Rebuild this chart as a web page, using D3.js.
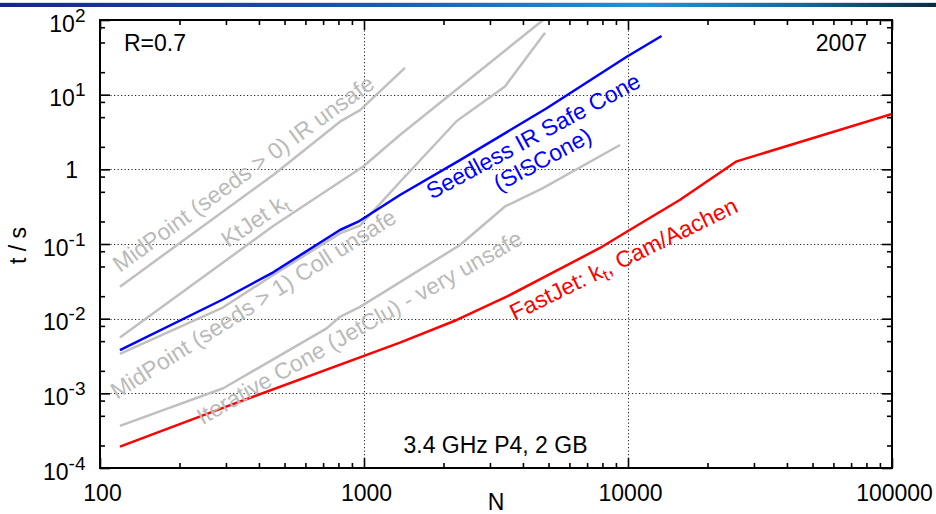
<!DOCTYPE html>
<html>
<head>
<meta charset="utf-8">
<script src="https://cdn.jsdelivr.net/npm/d3@7"></script>
<style>
  html, body { margin: 0; padding: 0; background: #fff; }
  svg { display: block; font-family: "Liberation Sans", Arial, Helvetica, sans-serif; }
</style>
</head>
<body>
<svg id="chart" width="936" height="514"></svg>
<script>
// Clustering time t (seconds) versus number of particles N, R = 0.7

// MidPoint, seeds > 0 (IR unsafe)
const N_MP0 = [119, 453, 811, 966, 1429];
const T_MP0 = [0.0268, 0.84, 4.35, 6.2, 22.8];
// KtJet kt
const N_KTJET = [119, 453, 993, 1368, 4770];
const T_KTJET = [0.0056, 0.174, 1.09, 2.88, 100];
// MidPoint, seeds > 1 (collinear unsafe)
const N_MP1 = [119, 293, 453, 811, 966, 1368, 2245, 3420, 4850];
const T_MP1 = [0.00337, 0.0142, 0.0385, 0.139, 0.176, 0.676, 4.44, 12.9, 67.6];
// Iterative Cone (JetClu)
const N_ICONE = [119, 293, 722, 811, 966, 2310, 3420, 4760, 9330];
const T_ICONE = [0.000366, 0.00117, 0.0074, 0.0106, 0.0144, 0.097, 0.318, 0.56, 2.12];
// SISCone
const N_SIS = [119, 293, 453, 811, 951, 1368, 2310, 4920, 9890, 13400];
const T_SIS = [0.0038, 0.0182, 0.0418, 0.154, 0.199, 0.453, 1.33, 6.57, 32.2, 61];
// FastJet kt, Cam/Aachen
const N_FJ = [119, 292, 1368, 2245, 3470, 7830, 9890, 15700, 25800, 100000];
const T_FJ = [0.000193, 0.00064, 0.00477, 0.0096, 0.0197, 0.0885, 0.146, 0.388, 1.28, 5.5];

// Axis ticks
const X_MAJOR = [100, 1000, 10000, 100000];
const X_LABELS = ["100", "1000", "10000", "100000"];
const Y_MAJOR = [1e-4, 1e-3, 1e-2, 1e-1, 1, 10, 100];
const Y_EXPONENTS = [-4, -3, -2, -1, 0, 1, 2];
const X_MINOR_MULT = [2, 3, 4, 5, 6, 7, 8, 9];
const Y_MINOR_MULT = [2, 5, 8];

const W = 936, H = 514;
const L = 100, R = 892, T = 20, B = 468;
const GRAY = "#c0c0c0", GRAY_TEXT = "#bababa";
const FONT = 23;

const svg = d3.select("#chart");

// header strip
const defs = svg.append("defs");
const grad = defs.append("linearGradient").attr("id", "strip")
  .attr("x1", "0%").attr("x2", "100%").attr("y1", "0%").attr("y2", "0%");
[[0, "#16278a"], [0.35, "#1a4fa8"], [0.69, "#1f93d6"], [0.85, "#176a9c"], [1, "#0c2c40"]]
  .forEach(([o, c]) => grad.append("stop").attr("offset", o).attr("stop-color", c));
svg.append("rect").attr("x", 0).attr("y", 2).attr("width", W).attr("height", 1).attr("fill", "#d8dde6");
svg.append("rect").attr("x", 0).attr("y", 3).attr("width", W).attr("height", 4).attr("fill", "url(#strip)");

const x = d3.scaleLog().domain([100, 100000]).range([L, R]);
const y = d3.scaleLog().domain([1e-4, 100]).range([B, T]);

const decadesX = [100, 1000, 10000];
const xMinor = decadesX.flatMap(d => X_MINOR_MULT.map(m => d * m));
const yMinor = [1e-4, 1e-3, 1e-2, 1e-1, 1, 10].flatMap(d => Y_MINOR_MULT.map(m => d * m));

// dotted grid at inner decades
const grid = svg.append("g").attr("stroke", "#222").attr("stroke-width", 1).attr("stroke-dasharray", "1.2,2.3");
Y_MAJOR.slice(1, -1).forEach(v => {
  grid.append("line").attr("x1", L).attr("x2", R)
    .attr("y1", Math.round(y(v)) + 0.5).attr("y2", Math.round(y(v)) + 0.5);
});
X_MAJOR.slice(1, -1).forEach(v => {
  grid.append("line").attr("y1", T).attr("y2", B)
    .attr("x1", Math.round(x(v)) + 0.5).attr("x2", Math.round(x(v)) + 0.5);
});

// curves
const clip = defs.append("clipPath").attr("id", "plotclip");
clip.append("rect").attr("x", L).attr("y", T).attr("width", R - L).attr("height", B - T);

const series = [
  { n: N_MP0, t: T_MP0, color: GRAY },
  { n: N_KTJET, t: T_KTJET, color: GRAY },
  { n: N_MP1, t: T_MP1, color: GRAY },
  { n: N_ICONE, t: T_ICONE, color: GRAY },
  { n: N_SIS, t: T_SIS, color: "#0000ff" },
  { n: N_FJ, t: T_FJ, color: "#ff0000" }
];
const line = d3.line().x(d => x(d[0])).y(d => y(d[1]));
const curves = svg.append("g").attr("clip-path", "url(#plotclip)");
series.forEach(s => {
  curves.append("path")
    .datum(d3.zip(s.n, s.t))
    .attr("d", line)
    .attr("fill", "none")
    .attr("stroke", s.color)
    .attr("stroke-width", 2.5)
    .attr("stroke-linejoin", "round");
});

// ticks on all four sides, pointing inwards
function ticks(axisFn, scale, values, size, transform) {
  const g = svg.append("g").attr("transform", transform)
    .call(axisFn(scale).tickValues(values).tickSize(-size).tickSizeOuter(0).tickFormat(""));
  g.select(".domain").remove();
  g.selectAll(".tick line").attr("stroke", "#000").attr("stroke-width", 1.6);
  return g;
}
ticks(d3.axisBottom, x, xMinor, 5, `translate(0,${B})`);
ticks(d3.axisTop, x, xMinor, 5, `translate(0,${T})`);
ticks(d3.axisTop, x, X_MAJOR, 10, `translate(0,${T})`);
ticks(d3.axisLeft, y, yMinor, 5, `translate(${L},0)`);
ticks(d3.axisRight, y, yMinor, 5, `translate(${R},0)`);
ticks(d3.axisLeft, y, Y_MAJOR, 10, `translate(${L},0)`);
ticks(d3.axisRight, y, Y_MAJOR, 10, `translate(${R},0)`);

// bottom axis with labels
const gx = svg.append("g").attr("transform", `translate(0,${B})`)
  .call(d3.axisBottom(x).tickValues(X_MAJOR).tickSize(-10).tickSizeOuter(0).tickPadding(17)
    .tickFormat((d, i) => X_LABELS[i]));
gx.select(".domain").remove();
gx.selectAll(".tick line").attr("stroke", "#000").attr("stroke-width", 1.6);
gx.selectAll(".tick text").attr("fill", "#000").attr("font-size", FONT)
  .attr("font-family", "Liberation Sans, Arial, sans-serif").attr("dx", 2);

// left labels as powers of ten
const yl = svg.append("g").attr("fill", "#000").attr("font-size", FONT);
Y_MAJOR.forEach((v, i) => {
  const e = Y_EXPONENTS[i];
  if (e === 0) {
    yl.append("text").attr("x", 78).attr("y", y(v) + 8.3).attr("text-anchor", "end").text("1");
  } else {
    const t = yl.append("text").attr("x", 85.5).attr("y", y(v) + 11.7).attr("text-anchor", "end");
    t.append("tspan").text("10");
    t.append("tspan").attr("font-size", 19).attr("dy", -10).text(e < 0 ? "-" + (-e) : String(e));
  }
});

// frame
svg.append("rect").attr("x", L).attr("y", T).attr("width", R - L).attr("height", B - T)
  .attr("fill", "none").attr("stroke", "#000").attr("stroke-width", 2);

// axis titles
svg.append("text").attr("x", 496).attr("y", 510).attr("text-anchor", "middle")
  .attr("font-size", FONT).text("N");
svg.append("text").attr("transform", "translate(26,245.5) rotate(-90)").attr("text-anchor", "middle")
  .attr("font-size", FONT).text("t / s");

// annotations
svg.append("text").attr("x", 124).attr("y", 51).attr("font-size", FONT).text("R=0.7");
svg.append("text").attr("x", 867).attr("y", 51).attr("text-anchor", "end").attr("font-size", FONT).text("2007");
svg.append("text").attr("x", 495.5).attr("y", 453).attr("text-anchor", "middle").attr("font-size", FONT)
  .text("3.4 GHz P4, 2 GB");

// curve labels, rotated along their curves
function curveLabel(cx, cy, angle, color, lines) {
  const g = svg.append("g").attr("transform", `translate(${cx},${cy}) rotate(${-angle})`)
    .attr("fill", color).attr("font-size", FONT).attr("text-anchor", "middle");
  lines.forEach(ln => {
    const t = g.append("text").attr("x", ln.dx || 0).attr("y", ln.dy || 0);
    ln.parts.forEach(p => {
      if (p.sub) {
        t.append("tspan").attr("font-size", 17).attr("dy", 5).text(p.s);
      } else {
        t.append("tspan").attr("dy", p.after ? -5 : null).text(p.s);
      }
    });
  });
}
curveLabel(248, 180, 36, GRAY_TEXT, [{ parts: [{ s: "MidPoint (seeds > 0) IR unsafe" }] }]);
curveLabel(259, 227, 34, GRAY_TEXT, [{ parts: [{ s: "KtJet k" }, { s: "t", sub: true }] }]);
curveLabel(257.5, 310.5, 32.4, GRAY_TEXT, [{ parts: [{ s: "MidPoint (seeds > 1) Coll unsafe" }] }]);
curveLabel(363.3, 334.2, 29.5, GRAY_TEXT, [{ parts: [{ s: "Iterative Cone (JetClu) - very unsafe" }] }]);
curveLabel(537, 143, 28.4, "#0000ff", [
  { parts: [{ s: "Seedless IR Safe Cone" }] },
  { parts: [{ s: "(SISCone)" }], dx: -3, dy: 25 }
]);
curveLabel(627, 266, 26, "#ff0000", [
  { parts: [{ s: "FastJet: k" }, { s: "t", sub: true }, { s: ", Cam/Aachen", after: true }] }
]);
</script>
</body>
</html>
